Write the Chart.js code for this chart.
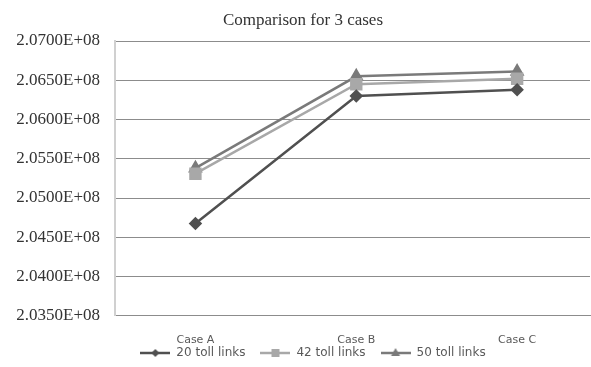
<!DOCTYPE html>
<html><head><meta charset="utf-8">
<script src="https://cdn.jsdelivr.net/npm/chart.js@4/dist/chart.umd.min.js"></script>
<style>html,body{margin:0;padding:0;background:#fff}#wrap{width:591px;height:367px}</style>
</head><body><div id="wrap"><canvas id="c" width="591" height="367"></canvas></div>
<script>
const categories = ["Case A", "Case B", "Case C"];
const seriesNames = ["20 toll links", "42 toll links", "50 toll links"];
const tolls20 = [2.04675e8, 2.0630e8, 2.0638e8];
const tolls42 = [2.0531e8, 2.0645e8, 2.0652e8];
const tolls50 = [2.0538e8, 2.0655e8, 2.0661e8];
const yTicks = [2.035e8, 2.04e8, 2.045e8, 2.05e8, 2.055e8, 2.06e8, 2.065e8, 2.07e8];

const colors = ["#505050", "#a8a8a8", "#7a7a7a"];
const styles = ["rectRot", "rect", "triangle"];
const radii = [5, 7, 6];

function legendIcon(color, style){
  const cv = document.createElement('canvas');
  cv.width = 30; cv.height = 12;
  const g = cv.getContext('2d');
  g.strokeStyle = color; g.lineWidth = 2.5;
  g.beginPath(); g.moveTo(0,6); g.lineTo(30,6); g.stroke();
  g.fillStyle = color;
  if (style === 'rectRot') { g.beginPath(); g.moveTo(15,2); g.lineTo(19,6); g.lineTo(15,10); g.lineTo(11,6); g.closePath(); g.fill(); }
  else if (style === 'rect') { g.fillRect(11,2,8,8); }
  else { g.beginPath(); g.moveTo(15,1); g.lineTo(19.5,9); g.lineTo(10.5,9); g.closePath(); g.fill(); }
  return cv;
}

const series = [tolls20, tolls42, tolls50];
const datasets = series.map((arr, i) => ({
  label: seriesNames[i],
  data: arr.map((v, j) => ({x: j, y: v})),
  borderColor: colors[i],
  backgroundColor: colors[i],
  pointBackgroundColor: colors[i],
  pointBorderColor: colors[i],
  pointStyle: styles[i],
  pointRadius: radii[i],
  borderWidth: 2.5,
  tension: 0
}));
const icons = datasets.map((d, i) => legendIcon(colors[i], styles[i]));

const shiftPlugin = {
  id: 'shift',
  afterLayout(chart) {
    if (chart.titleBlock) { chart.titleBlock.left += 8; chart.titleBlock.right += 8; }
    if (chart.legend) {
      chart.legend.left += 18; chart.legend.right += 18;
      chart.legend.top -= 33; chart.legend.bottom -= 33;
    }
  }
};

new Chart(document.getElementById('c'), {
  type: 'line',
  data: { datasets },
  plugins: [shiftPlugin],
  options: {
    responsive: false,
    animation: false,
    devicePixelRatio: 1,
    layout: { autoPadding: false, padding: { left: 0, right: 1, top: 0, bottom: -35 } },
    plugins: {
      title: { display: true, text: 'Comparison for 3 cases', color: '#333',
        font: { family: '"Liberation Serif", "Times New Roman", serif', size: 17, weight: 'normal' },
        padding: { top: 10, bottom: 10.6 } },
      legend: { position: 'bottom',
        labels: { usePointStyle: true, pointStyleWidth: 30, padding: 15, color: '#595959',
          font: { family: '"DejaVu Sans", sans-serif', size: 12 },
          generateLabels: (chart) => chart.data.datasets.map((d, i) => ({
            text: d.label, pointStyle: icons[i], fillStyle: colors[i], strokeStyle: colors[i],
            lineWidth: 0, datasetIndex: i, hidden: false, fontColor: '#595959'
          }))
        } },
      tooltip: { enabled: false }
    },
    scales: {
      x: { type: 'linear', min: -0.5, max: 2.453,
        afterBuildTicks: (s) => { s.ticks = categories.map((c, i) => ({value: i})); },
        afterFit: (s) => { s.paddingLeft = 0; s.paddingRight = 0; },
        ticks: { callback: (v) => categories[v] ?? '', color: '#595959', padding: 18, maxRotation: 0,
          font: { family: '"DejaVu Sans", sans-serif', size: 11 } },
        grid: { display: false, drawTicks: false },
        border: { display: true, color: '#8c8c8c', width: 1 }
      },
      y: { min: 2.035e8, max: 2.07e8,
        afterBuildTicks: (s) => { s.ticks = yTicks.map(v => ({value: v})); },
        afterFit: (s) => { s.width = 115; },
        ticks: { callback: (v) => (v / 1e8).toFixed(4) + 'E+08', color: '#333', padding: 15,
          font: { family: '"Liberation Serif", "Times New Roman", serif', size: 17 } },
        grid: { color: '#8c8c8c', lineWidth: 1, drawTicks: false },
        border: { display: true, color: '#d0d0d0', width: 2 }
      }
    }
  }
});
</script></body></html>
